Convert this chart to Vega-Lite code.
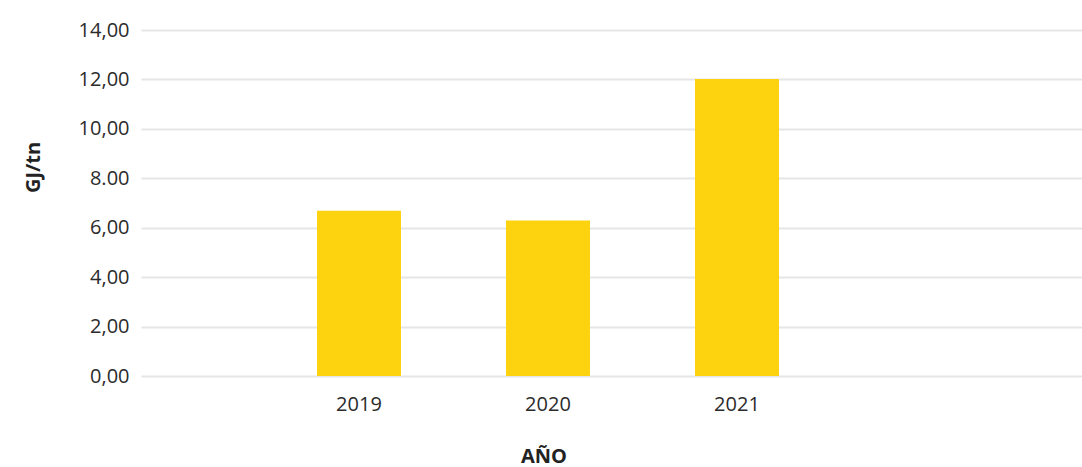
{
  "$schema": "https://vega.github.io/schema/vega-lite/v6.json",
  "autosize": {"type": "none"},
  "padding": {"left": 141, "top": 30, "right": 0, "bottom": 91},
  "width": 941,
  "height": 346,
  "background": "white",
  "config": {
    "view": {"stroke": null},
    "font": "Open Sans",
    "axis": {"labelFont": "Open Sans", "titleFont": "Open Sans", "labelColor": "#2b2b2b", "titleColor": "#222222"}
  },
  "data": {
    "values": [
      {"year": "2019", "value": 6.69},
      {"year": "2020", "value": 6.29},
      {"year": "2021", "value": 12.02}
    ]
  },
  "mark": {"type": "bar", "color": "#FDD20F", "width": 84},
  "encoding": {
    "x": {
      "field": "year",
      "type": "nominal",
      "sort": null,
      "scale": {"paddingInner": 0, "paddingOuter": 0.9895, "align": 0.3302},
      "axis": {
        "title": "AÑO",
        "titleFontSize": 20,
        "titleFontWeight": "bold",
        "titleX": 402.5,
        "titleY": 86,
        "titleBaseline": "alphabetic",
        "labelAngle": 0,
        "labelFontSize": 20,
        "labelPadding": 18,
        "ticks": false,
        "domain": false,
        "grid": false
      }
    },
    "y": {
      "field": "value",
      "type": "quantitative",
      "scale": {"domain": [0, 14], "nice": false},
      "axis": {
        "title": "GJ/tn",
        "titleFontSize": 20,
        "titleFontWeight": "bold",
        "titleX": -98,
        "titleY": 137,
        "values": [0, 2, 4, 6, 8, 10, 12, 14],
        "labelExpr": "datum.value == 8 ? '8.00' : replace(format(datum.value, '.2f'), '.', ',')",
        "labelFontSize": 20,
        "labelPadding": 12,
        "ticks": false,
        "domain": false,
        "grid": true,
        "gridColor": "#e6e6e6",
        "gridWidth": 2
      }
    }
  }
}
